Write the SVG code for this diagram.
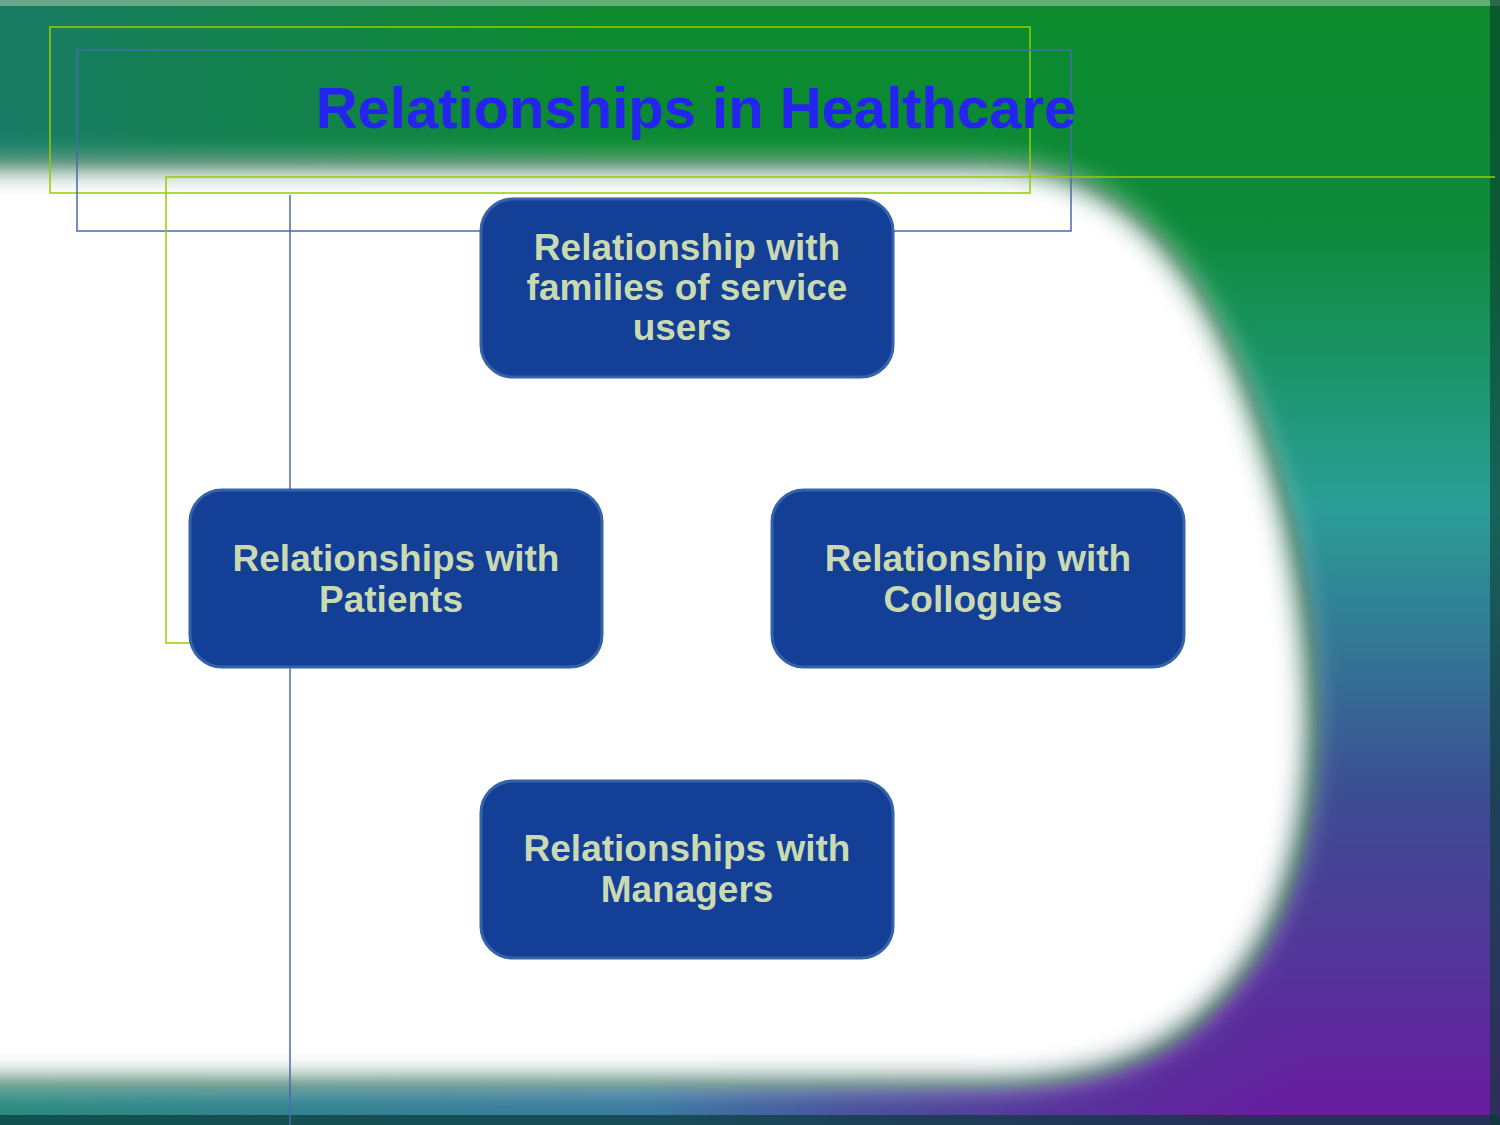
<svg xmlns="http://www.w3.org/2000/svg" width="1500" height="1125" viewBox="0 0 1500 1125">
<defs>
<linearGradient id="bg" x1="0" y1="0" x2="0" y2="1">
<stop offset="0" stop-color="#0b8a2c"/>
<stop offset="0.2" stop-color="#0d8a3a"/>
<stop offset="0.45" stop-color="#2a9e96"/>
<stop offset="0.7" stop-color="#3b4f92"/>
<stop offset="1" stop-color="#6a1aa0"/>
</linearGradient>
<linearGradient id="leftShade" x1="0" y1="0" x2="1" y2="0">
<stop offset="0" stop-color="#1a7a6a" stop-opacity="0.9"/>
<stop offset="0.4" stop-color="#1a7a6a" stop-opacity="0"/>
</linearGradient>
<linearGradient id="bottomShade" x1="0" y1="0" x2="1" y2="0">
<stop offset="0" stop-color="#2a8a80"/>
<stop offset="0.5" stop-color="#3a7aa0"/>
<stop offset="1" stop-color="#3a4a90" stop-opacity="0"/>
</linearGradient>
<filter id="blur" x="-10%" y="-10%" width="120%" height="120%">
<feGaussianBlur stdDeviation="14"/>
</filter>
<filter id="blur2" x="-10%" y="-10%" width="120%" height="120%">
<feGaussianBlur stdDeviation="5"/>
</filter>
<style>
.node rect{fill:#143f96;stroke:#3563a8;stroke-width:3}
.node text{font-family:"Liberation Sans",Arial,sans-serif;font-weight:bold;font-size:37px;fill:#c9d9b2;text-anchor:middle}
.title{font-family:"Liberation Sans",Arial,sans-serif;font-weight:bold;font-size:58px;fill:#2424ee;text-anchor:middle}
.yg{fill:none;stroke:#99cc00;stroke-width:1.5}
.bl{fill:none;stroke:#4a6ab0;stroke-width:1.5}
</style>
</defs>
<rect x="0" y="0" width="1500" height="1125" fill="url(#bg)"/>
<rect x="0" y="0" width="1500" height="1125" fill="url(#leftShade)"/>
<rect x="0" y="1020" width="1300" height="105" fill="url(#bottomShade)"/>
<rect x="0" y="0" width="1500" height="6" fill="#9cc8a8" opacity="0.6"/>
<rect x="1490" y="0" width="10" height="1125" fill="#0a3a30" opacity="0.6"/>
<rect x="0" y="1115" width="1500" height="10" fill="#0a3a3a" opacity="0.7"/>
<path d="M-60,158 H980 C1150,158 1235,300 1295,520 C1335,700 1325,850 1265,950 C1195,1062 1105,1088 985,1088 H-60 Z" fill="#064a22" filter="url(#blur2)" opacity="0.75"/>
<path d="M-60,166 H985 C1145,166 1228,300 1285,520 C1325,700 1315,850 1255,950 C1185,1058 1095,1082 975,1082 H-60 Z" fill="#ffffff" filter="url(#blur)"/>
<g id="decor">
<rect class="yg" x="50" y="27" width="980" height="166"/>
<rect class="bl" x="77" y="50" width="994" height="181"/>
<polyline class="yg" points="190,643 166,643 166,177 1495,177"/>
<line class="bl" x1="290" y1="195" x2="290" y2="1125"/>
</g>
<g id="title">
<text class="title" x="696" y="128">Relationships in Healthcare</text>
</g>
<g id="connectors"/>
<g id="node-families" class="node">
<rect x="481" y="199" width="412" height="178" rx="32"/>
<text x="687" y="260">Relationship with</text>
<text x="687" y="300">families of service</text>
<text x="682" y="340">users</text>
</g>
<g id="node-patients" class="node">
<rect x="190" y="490" width="412" height="177" rx="32"/>
<text x="396" y="571">Relationships with</text>
<text x="391" y="612">Patients</text>
</g>
<g id="node-collogues" class="node">
<rect x="772" y="490" width="412" height="177" rx="32"/>
<text x="978" y="571">Relationship with</text>
<text x="973" y="612">Collogues</text>
</g>
<g id="node-managers" class="node">
<rect x="481" y="781" width="412" height="177" rx="32"/>
<text x="687" y="861">Relationships with</text>
<text x="687" y="902">Managers</text>
</g>
</svg>
